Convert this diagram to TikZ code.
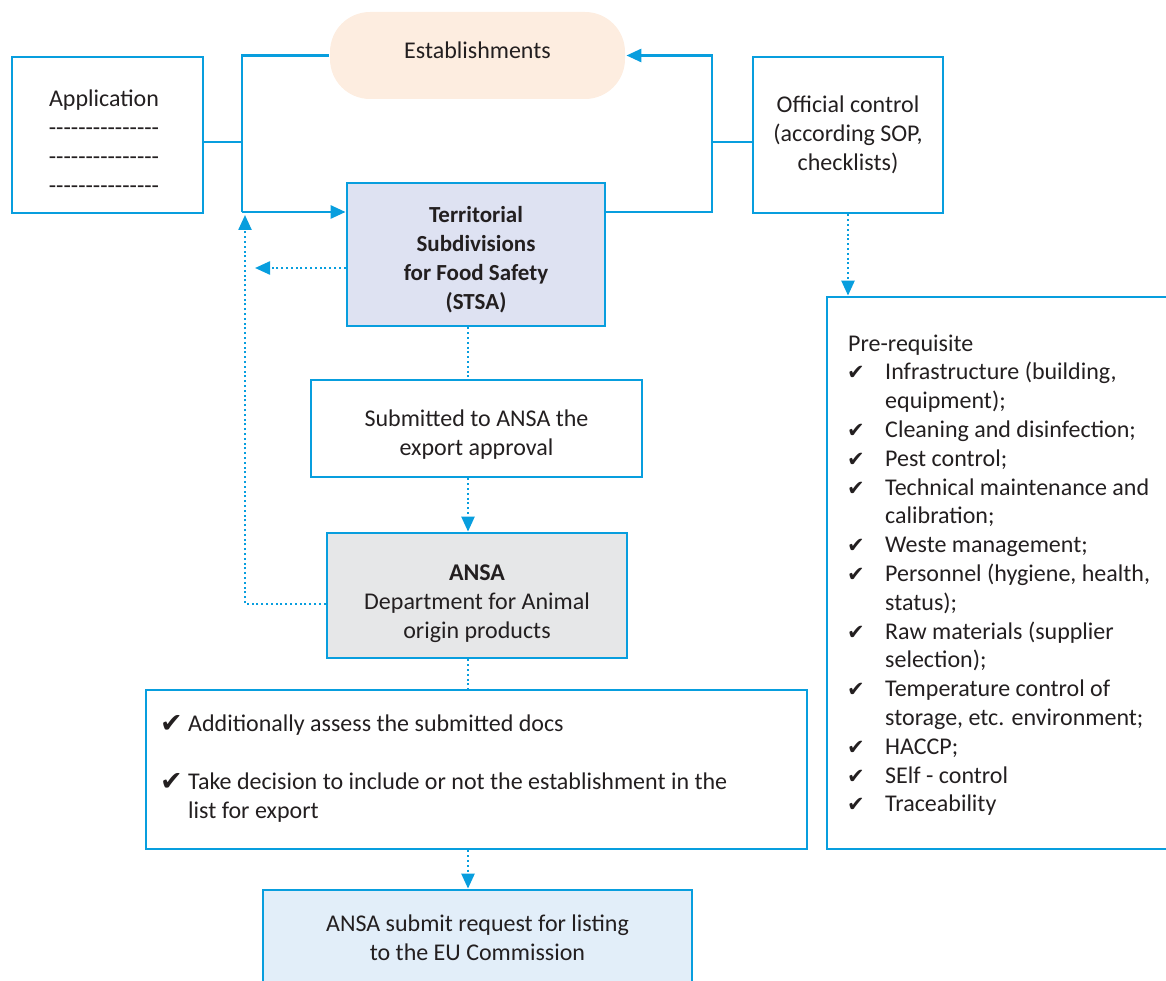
\documentclass[tikz,border=0pt]{standalone}
\usepackage{fontspec}
\setmainfont{Carlito}
\newfontfamily\symfont{DejaVu Sans}
\usetikzlibrary{arrows.meta,calc}
\definecolor{lblue}{RGB}{8,158,222}
\definecolor{estfill}{RGB}{253,237,224}
\definecolor{stsafill}{RGB}{222,226,242}
\definecolor{ansafill}{RGB}{230,231,232}
\definecolor{eufill}{RGB}{226,238,249}
\definecolor{txt}{RGB}{35,31,32}
\newcommand\dashrow{-\kern0pt-\kern0pt-\kern0pt-\kern0pt-\kern0pt-\kern0pt-\kern0pt-\kern0pt-\kern0pt-\kern0pt-\kern0pt-\kern0pt-\kern0pt-\kern0pt-}
\tikzset{
  txtfont/.style={font=\fontsize{24}{29}\selectfont, text=txt},
  box/.style={draw=lblue, line width=2.8pt, inner sep=0pt, align=center, txtfont},
  label/.style={txtfont, align=center, inner sep=0pt},
  conn/.style={draw=lblue, line width=2.8pt},
  arr/.style={conn, -{Triangle[length=15pt,width=13pt]}},
  dotln/.style={draw=lblue, line width=2.4pt, dash pattern=on 2pt off 2.8pt},
  darr/.style={dotln, -{Triangle[length=15pt,width=13pt]}},
  chk/.style={anchor=base west, inner sep=0pt, font=\symfont\fontsize{21}{24}\selectfont, text=txt},
  bigchk/.style={chk, font=\symfont\fontsize{27}{30}\selectfont},
  line/.style={anchor=base west, inner sep=0pt, txtfont},
}
\begin{document}
\begin{tikzpicture}[x=1pt,y=-1pt]
\useasboundingbox (0,0) rectangle (1166,981);
\clip (0,0) rectangle (1166,981);

% boxes
\node[box, draw=none, fill=estfill, rounded corners=40pt, minimum width=295pt, minimum height=87pt] (est) at (477.5,55.5) {};
\node[label] (esttext) at (477.5,50) {Establishments};
\node[box, minimum width=191pt, minimum height=156pt] (app) at (107.5,135) {};
\node[label] (apptext) at (104,141.5) {Application\\\dashrow\\\dashrow\\\dashrow};
\node[box, minimum width=190pt, minimum height=156pt] (oc) at (848,135) {Official control\\(according SOP,\\checklists)};
\node[box, fill=stsafill, minimum width=258pt, minimum height=143pt] (stsa) at (476,254.5) {};
\node[label, font=\fontsize{23}{29}\selectfont\bfseries] (stsatext) at (476,259.5) {Territorial\\Subdivisions\\for Food Safety\\(STSA)};
\node[box, minimum width=331pt, minimum height=97pt] (sub) at (476.5,428.5) {};
\node[label] (subtext) at (476.5,434.5) {Submitted to ANSA the\\export approval};
\node[box, fill=ansafill, minimum width=300pt, minimum height=125pt] (ansa) at (477,595.5) {};
\node[label] (ansatext) at (477,604) {\textbf{ANSA}\\Department for Animal\\origin products};
\node[box, minimum width=661pt, minimum height=159pt] (dec) at (476.5,769.5) {};
\node[box, fill=eufill, minimum width=429pt, minimum height=120pt] (eu) at (477.5,950) {};
\node[label] (eutext) at (477.5,937.5) {ANSA submit request for listing\\to the EU Commission};
\node[box, minimum width=358pt, minimum height=552pt] (pre) at (1006,573) {};

% decision text
\node[bigchk] (c1) at (160,732) {✔};
\node[line] (t1) at (188,731) {Additionally assess the submitted docs};
\node[bigchk] (c2) at (160,790) {✔};
\node[line] (t2) at (188,789) {Take decision to include or not the establishment in the};
\node[line] (t3) at (188,818) {list for export};

% pre-requisite list
\node[line] (p0) at (848,351) {Pre-requisite};
\foreach \t/\i in {{equipment);}/2,{calibration;}/6,{status);}/9,{selection);}/11,{storage, etc. environment;}/13}{
  \pgfmathsetmacro\yy{351+28.8*\i}
  \node[line] (p\i) at (885,\yy) {\t};
}
\foreach \t/\i in {{Infrastructure (building,}/1,{Cleaning and disinfection;}/3,{Pest control;}/4,{Technical maintenance and}/5,{Weste management;}/7,{Personnel (hygiene, health,}/8,{Raw materials (supplier}/10,{Temperature control of}/12,{HACCP;}/14,{SElf - control}/15,{Traceability}/16}{
  \pgfmathsetmacro\yy{351+28.8*\i}
  \node[line] (q\i) at (885,\yy) {\t};
  \node[chk] (k\i) at (847,\yy) {✔};
}

% coordinates
\coordinate (jl) at (242,142);
\coordinate (lb) at (242,212);
\coordinate (jr) at (712,142);
\coordinate (rb) at (712,212);
\coordinate (dl) at (255,268);
\coordinate (au) at (245,215);
\coordinate (vx) at (468,0);

% solid connectors
\draw[conn] (app.east |- jl) -- (jl);
\draw[conn] (est.west) -| (lb);
\draw[arr] (lb) -- (lb -| stsa.west);
\draw[arr] (stsa.east |- rb) -- (rb) |- (est.east);
\draw[conn] (oc.west |- jr) -- (jr);

% dotted connectors
\draw[darr] (oc.south) -- (oc.south |- pre.north);
\draw[darr] (dl -| stsa.west) -- (dl);
\draw[darr] (ansa.west |- 0,604) -| (au);
\draw[dotln] (stsa.south -| vx) -- (sub.north -| vx);
\draw[darr] (sub.south -| vx) -- (ansa.north -| vx);
\draw[dotln] (ansa.south -| vx) -- (dec.north -| vx);
\draw[darr] (dec.south -| vx) -- (eu.north -| vx);
\end{tikzpicture}
\end{document}
